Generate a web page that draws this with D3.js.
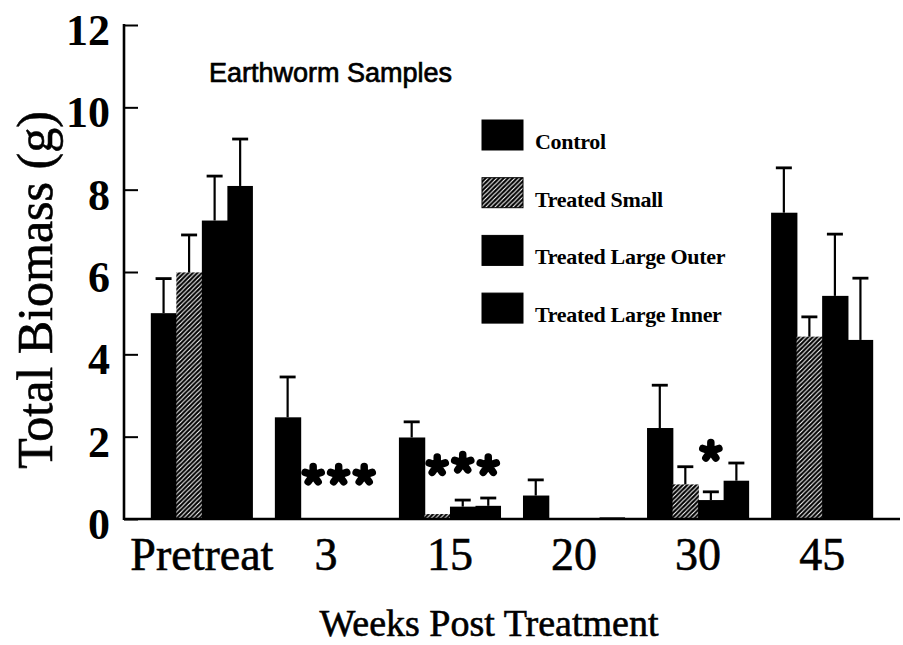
<!DOCTYPE html>
<html>
<head>
<meta charset="utf-8">
<script src="https://cdn.jsdelivr.net/npm/d3@7"></script>
<style>
  html, body { margin: 0; padding: 0; background: #fff; }
  svg { display: block; }
</style>
</head>
<body>
<svg id="chart" width="903" height="645"></svg>
<script>
// ---- data ----
const categories = ["Pretreat", "3", "15", "20", "30", "45"];
const seriesNames = ["Control", "Treated Small", "Treated Large Outer", "Treated Large Inner"];
const controlMean = [5.0, 2.47, 1.98, 0.57, 2.21, 7.44];
const controlErr  = [0.84, 0.98, 0.38, 0.38, 1.04, 1.09];
const smallMean   = [5.99, 0, 0.12, 0, 0.84, 4.43];
const smallErr    = [0.91, 0, 0, 0, 0.43, 0.48];
const outerMean   = [7.25, 0, 0.3, 0, 0.46, 5.42];
const outerErr    = [1.08, 0, 0.16, 0, 0.2, 1.5];
const innerMean   = [8.09, 0, 0.32, 0.04, 0.93, 4.35];
const innerErr    = [1.14, 0, 0.19, 0, 0.43, 1.5];
const yTicks = [0, 2, 4, 6, 8, 10, 12];
// significance stars: group, series, y value (g)
const starGroup  = ["3", "3", "3", "15", "15", "15", "30"];
const starSeries = ["Treated Small", "Treated Large Outer", "Treated Large Inner",
                    "Treated Small", "Treated Large Outer", "Treated Large Inner", "Treated Large Outer"];
const starValue  = [1.07, 1.07, 1.07, 1.3, 1.36, 1.3, 1.65];
const chartTitle = "Earthworm Samples";
const xTitle = "Weeks Post Treatment";
const yTitle = "Total Biomass (g)";

// ---- build table ----
const means = [controlMean, smallMean, outerMean, innerMean];
const errs = [controlErr, smallErr, outerErr, innerErr];
const rows = [];
categories.forEach((c, i) => {
  seriesNames.forEach((s, j) => {
    rows.push({ cat: c, series: s, value: means[j][i], err: errs[j][i] });
  });
});

const svg = d3.select("#chart");
const serif = "'Liberation Serif', 'Times New Roman', serif";
const sans = "'Liberation Sans', Arial, sans-serif";

const axisX = 124, baseY = 519, topY = 25, rightX = 900;

const x0 = d3.scaleBand().domain(categories).range([126, 898]).paddingInner(0.177).paddingOuter(0.2);
const x1 = d3.scaleBand().domain(seriesNames).range([0, x0.bandwidth()]).padding(0);
const y = d3.scaleLinear().domain([0, 12]).range([baseY, topY]);

// hatch pattern
const defs = svg.append("defs");
const pat = defs.append("pattern").attr("id", "hatch").attr("patternUnits", "userSpaceOnUse")
  .attr("width", 4.5).attr("height", 4.5);
pat.append("rect").attr("width", 4.5).attr("height", 4.5).attr("fill", "#000");
pat.append("path").attr("d", "M-1,5.5 L5.5,-1 M-1,1 L1,-1 M3.5,5.5 L5.5,3.5")
  .attr("stroke", "#fff").attr("stroke-width", 1.1);

const fillFor = s => s === "Treated Small" ? "url(#hatch)" : "#000";

// bars
svg.append("g").selectAll("rect").data(rows.filter(d => d.value > 0)).join("rect")
  .attr("x", d => x0(d.cat) + x1(d.series))
  .attr("y", d => y(d.value))
  .attr("width", d => x1.bandwidth() + (d.series === "Treated Large Inner" ? 0 : 0.8))
  .attr("height", d => y(0) - y(d.value))
  .attr("fill", d => fillFor(d.series));

// error bars
const eb = svg.append("g").attr("stroke", "#000").attr("stroke-width", 2.2);
rows.filter(d => d.err > 0).forEach(d => {
  const cx = x0(d.cat) + x1(d.series) + x1.bandwidth() / 2;
  eb.append("line").attr("x1", cx).attr("x2", cx).attr("y1", y(d.value)).attr("y2", y(d.value + d.err));
  eb.append("line").attr("x1", cx - 8).attr("x2", cx + 8).attr("y1", y(d.value + d.err)).attr("y2", y(d.value + d.err))
    .attr("stroke-width", 2.8);
});

// stars (five-armed asterisks)
const armPath = (() => {
  const r = 8.5;
  let p = "";
  for (let k = 0; k < 5; k++) {
    const a = -Math.PI / 2 + k * 2 * Math.PI / 5;
    p += `M0,0L${(r * Math.cos(a)).toFixed(2)},${(r * Math.sin(a)).toFixed(2)}`;
  }
  return p;
})();
svg.append("g").selectAll("path").data(starGroup.map((g, i) => ({ g, s: starSeries[i], v: starValue[i] }))).join("path")
  .attr("d", armPath)
  .attr("transform", d => `translate(${x0(d.g) + x1(d.s) + x1.bandwidth() / 2},${y(d.v)})`)
  .attr("fill", "none").attr("stroke", "#000").attr("stroke-width", 7.5).attr("stroke-linecap", "round");

// axes
const yAxis = d3.axisRight(y).tickValues(yTicks).tickSize(14).tickFormat("");
const yg = svg.append("g").attr("transform", `translate(${axisX},0)`).call(yAxis);
yg.select(".domain").remove();
yg.selectAll(".tick line").attr("stroke", "#000").attr("stroke-width", 2);
svg.append("line").attr("x1", axisX).attr("x2", axisX).attr("y1", topY - 1).attr("y2", baseY + 1)
  .attr("stroke", "#000").attr("stroke-width", 2.6);
svg.append("line").attr("x1", axisX).attr("x2", rightX).attr("y1", baseY).attr("y2", baseY)
  .attr("stroke", "#000").attr("stroke-width", 2.6);

// y tick labels
svg.append("g").selectAll("text").data(yTicks).join("text")
  .attr("x", 110).attr("y", d => y(d) + 20)
  .attr("text-anchor", "end")
  .attr("font-family", serif).attr("font-weight", "bold").attr("font-size", 44)
  .text(d => d);

// x labels
svg.append("g").selectAll("text").data(categories).join("text")
  .attr("x", d => x0(d) + x0.bandwidth() / 2).attr("y", 570)
  .attr("text-anchor", "middle")
  .attr("font-family", serif).attr("font-size", 46)
  .attr("stroke", "#000").attr("stroke-width", 0.6)
  .text(d => d);

// titles
svg.append("text").attr("x", 489).attr("y", 636).attr("text-anchor", "middle")
  .attr("font-family", serif).attr("font-size", 38)
  .attr("stroke", "#000").attr("stroke-width", 0.6).text(xTitle);
svg.append("text").attr("transform", "translate(52,290) rotate(-90)").attr("text-anchor", "middle")
  .attr("font-family", serif).attr("font-size", 50)
  .attr("stroke", "#000").attr("stroke-width", 0.6).text(yTitle);
svg.append("text").attr("x", 209).attr("y", 82)
  .attr("font-family", sans).attr("font-size", 27)
  .attr("stroke", "#000").attr("stroke-width", 0.7).text(chartTitle);

// legend
const lg = svg.append("g");
seriesNames.forEach((s, i) => {
  const yy = 120 + i * 57.7;
  lg.append("rect").attr("x", 482).attr("y", yy).attr("width", 41).attr("height", 30)
    .attr("fill", fillFor(s)).attr("stroke", "#000").attr("stroke-width", 1);
  lg.append("text").attr("x", 535).attr("y", yy + 29)
    .attr("font-family", serif).attr("font-weight", "bold").attr("font-size", 22)
    .attr("letter-spacing", -0.3).text(s);
});
</script>
</body>
</html>
